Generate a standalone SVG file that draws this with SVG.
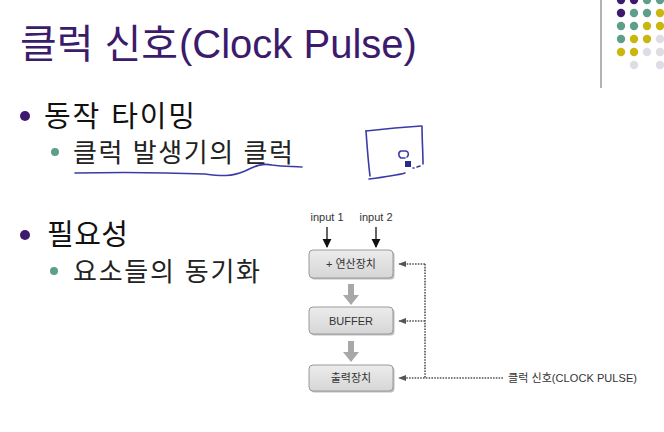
<svg xmlns="http://www.w3.org/2000/svg" width="664" height="432" viewBox="0 0 664 432">
<style>
.t{font-family:"Liberation Sans","Noto Sans CJK KR",sans-serif}
.h1{font-size:29px;fill:#111}
.h2{font-size:26px;fill:#222}
.lbl{font-size:11px;fill:#333;text-anchor:middle}
.box{fill:url(#g);stroke:#9a9a9a;stroke-width:1}
.sh{fill:#bdbdbd}
.dot{fill:none;stroke:#555;stroke-width:1.6;stroke-dasharray:1.6 1.2}
.ink{fill:none;stroke:#3b3ba6;stroke-width:1.6;stroke-linecap:round;stroke-linejoin:round}
.pu{fill:#3e1a6e}.te{fill:#5e9f8b}.ye{fill:#c9b70f}.gr{fill:#dedde6}
</style>
<defs>
<linearGradient id="g" x1="0" y1="0" x2="0" y2="1">
<stop offset="0" stop-color="#ececec"/><stop offset="1" stop-color="#d6d6d6"/>
</linearGradient>
<marker id="ah" viewBox="0 0 10 10" refX="9" refY="5" markerWidth="7" markerHeight="7" orient="auto">
<path d="M0,0 L10,5 L0,10 z" fill="#111"/>
</marker>
<marker id="dh" viewBox="0 0 10 10" refX="9" refY="5" markerWidth="5" markerHeight="5" orient="auto">
<path d="M0,1 L10,5 L0,9 z" fill="#555"/>
</marker>
</defs>
<rect width="664" height="432" fill="#fff"/>
<g id="decor">
<line x1="601" y1="0" x2="601" y2="88" stroke="#9a9a9a" stroke-width="1.5"/>
<circle cx="621" cy="0" r="4.2" class="pu"/><circle cx="634" cy="0" r="4.2" class="pu"/><circle cx="647" cy="0" r="4.2" class="te"/><circle cx="660" cy="0" r="4.2" class="te"/>
<circle cx="621" cy="13" r="4.2" class="pu"/><circle cx="634" cy="13" r="4.2" class="te"/><circle cx="647" cy="13" r="4.2" class="te"/><circle cx="660" cy="13" r="4.2" class="ye"/>
<circle cx="621" cy="26" r="4.2" class="te"/><circle cx="634" cy="26" r="4.2" class="te"/><circle cx="647" cy="26" r="4.2" class="ye"/><circle cx="660" cy="26" r="4.2" class="ye"/>
<circle cx="621" cy="39" r="4.2" class="te"/><circle cx="634" cy="39" r="4.2" class="ye"/><circle cx="647" cy="39" r="4.2" class="ye"/><circle cx="660" cy="39" r="4.2" class="gr"/>
<circle cx="621" cy="52" r="4.2" class="ye"/><circle cx="634" cy="52" r="4.2" class="ye"/><circle cx="647" cy="52" r="4.2" class="gr"/><circle cx="660" cy="52" r="4.2" class="gr"/>
<circle cx="634" cy="65" r="4.2" class="gr"/><circle cx="660" cy="65" r="4.2" class="gr"/>
</g>
<g id="title">
<text x="20" y="58" class="t" font-size="40" fill="#3c1a6c" textLength="158" lengthAdjust="spacingAndGlyphs">클럭 신호</text>
<text x="179" y="58" class="t" font-size="40" fill="#3c1a6c">(Clock Pulse)</text>
</g>
<g id="bullets">
<circle cx="25" cy="116" r="5" class="pu"/>
<text x="44" y="127" class="t h1" textLength="151" lengthAdjust="spacing">동작 타이밍</text>
<circle cx="55" cy="152" r="4" class="te"/>
<text x="73" y="162" class="t h2" textLength="220" lengthAdjust="spacing">클럭 발생기의 클럭</text>
<circle cx="25" cy="235" r="5" class="pu"/>
<text x="47" y="245" class="t h1" textLength="81" lengthAdjust="spacing">필요성</text>
<circle cx="54" cy="271" r="4" class="te"/>
<text x="73" y="281" class="t h2" textLength="187" lengthAdjust="spacing">요소들의 동기화</text>
</g>
<g id="ink">
<path class="ink" d="M75,173 C120,172 180,173 205,174 C220,176 232,177 245,171 C255,166 262,163 272,165 C285,167 295,166 302,167"/>
<path class="ink" d="M366,131 L395,128 L421,126"/>
<path class="ink" d="M366,131 C367,145 368,160 370,176"/>
<path class="ink" d="M369,179 C385,177 398,175 405,173"/>
<path class="ink" d="M422,126 C422,140 423,152 423,164"/>
<path class="ink" d="M405,158 L401,158 C398,156 398,152 401,151 L406,151 C409,152 409,155 407,157"/>
<rect x="405" y="161" width="6" height="6" fill="#2a2a8a"/>
<path class="ink" d="M413,168 L414,168 M417,167 L420,166"/>
</g>
<g id="connectors">
<line x1="327" y1="227" x2="327" y2="247" stroke="#111" stroke-width="1.3" marker-end="url(#ah)"/>
<line x1="376" y1="227" x2="376" y2="247" stroke="#111" stroke-width="1.3" marker-end="url(#ah)"/>
<path d="M348,284 h6 v11 h5 l-8,10 l-8,-10 h5 z" fill="#a8a8a8"/>
<path d="M348,341 h6 v11 h5 l-8,10 l-8,-10 h5 z" fill="#a8a8a8"/>
<path class="dot" d="M425,264 V378"/>
<path class="dot" d="M425,264 H399" marker-end="url(#dh)"/>
<path class="dot" d="M425,321 H399" marker-end="url(#dh)"/>
<path class="dot" d="M503,378 H399" marker-end="url(#dh)"/>
</g>
<g id="n_input1"><text x="327" y="221" class="t lbl">input 1</text></g>
<g id="n_input2"><text x="376" y="221" class="t lbl">input 2</text></g>
<g id="n_alu">
<rect x="310.5" y="251.5" width="84" height="28" rx="4" class="sh"/>
<rect x="309" y="250" width="84" height="28" rx="4" class="box"/>
<text x="351" y="268" class="t lbl">+ 연산장치</text>
</g>
<g id="n_buffer">
<rect x="310.5" y="308.5" width="84" height="27" rx="4" class="sh"/>
<rect x="309" y="307" width="84" height="27" rx="4" class="box"/>
<text x="351" y="325" class="t lbl">BUFFER</text>
</g>
<g id="n_out">
<rect x="310.5" y="366.5" width="84" height="26" rx="4" class="sh"/>
<rect x="309" y="365" width="84" height="26" rx="4" class="box"/>
<text x="351" y="382" class="t lbl">출력장치</text>
</g>
<g id="n_clock"><text x="508" y="382" class="t" font-size="11" fill="#333" textLength="129" lengthAdjust="spacing">클럭 신호(CLOCK PULSE)</text></g>
</svg>
